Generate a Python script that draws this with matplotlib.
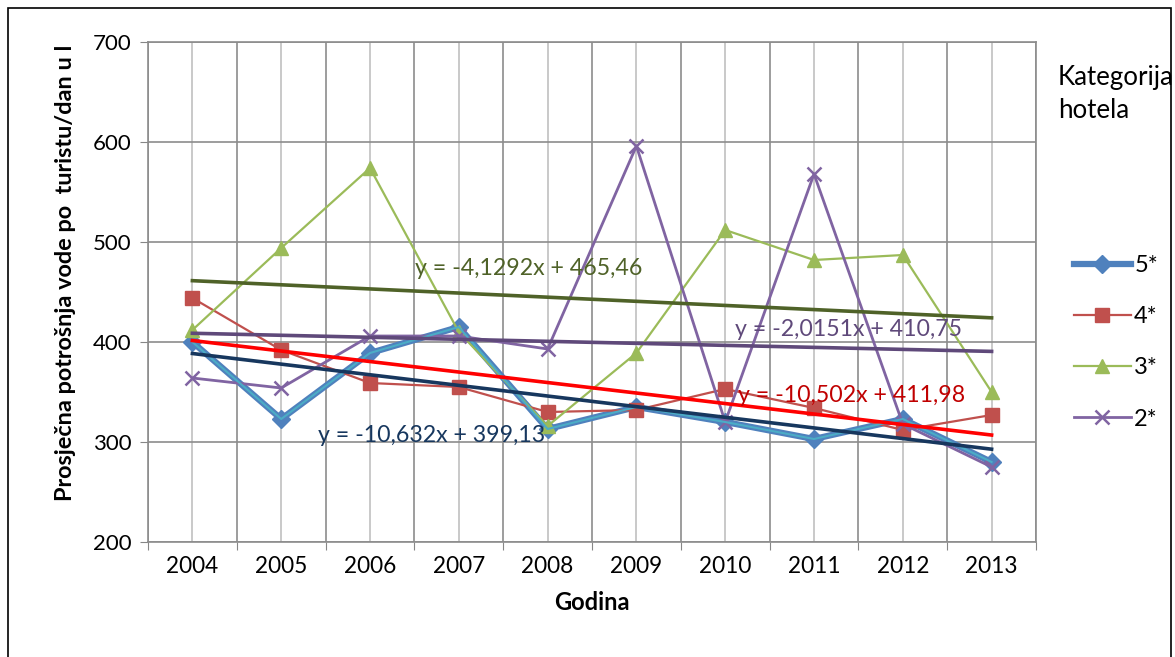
import matplotlib.pyplot as plt
import numpy as np
from matplotlib.patches import Rectangle
from matplotlib.ticker import FixedLocator, NullFormatter

plt.rcParams['font.family'] = ['Lato', 'DejaVu Sans']

years = ['2004', '2005', '2006', '2007', '2008', '2009', '2010', '2011', '2012', '2013']
hotel_5 = [400, 323, 389, 415, 313, 335, 320, 303, 323, 280]
hotel_4 = [444, 392, 359, 355, 330, 332, 353, 334, 312, 327]
hotel_3 = [412, 494, 574, 410, 316, 389, 512, 482, 487, 350]
hotel_2 = [364, 354, 406, 406, 393, 596, 320, 568, 318, 275]

# linear trend coefficients (slope, intercept) per category
trend_3 = (-4.1292, 465.46)
trend_2 = (-2.0151, 410.75)
trend_4 = (-10.502, 411.98)
trend_5 = (-10.632, 399.13)

fig = plt.figure(figsize=(11.75, 6.57), dpi=100)
fig.patches.append(Rectangle((8 / 1175, -0.1), 1163 / 1175, 1.1 - 8 / 657,
                             transform=fig.transFigure, fill=False,
                             edgecolor='black', linewidth=1.2))
ax = fig.add_axes([148 / 1175, 115 / 657, 888 / 1175, 500 / 657])

x = np.arange(1, len(years) + 1)

# series
ax.plot(x, hotel_5, color='#4F81BD', lw=4.5, marker='D', ms=9,
        mfc='#4F81BD', mec='#4F81BD', zorder=3, label='5*')
ax.plot(x, hotel_5, color='#4BACC6', lw=1.5, zorder=3.1)
ax.plot(x, hotel_4, color='#C0504D', lw=1.6, marker='s', ms=10,
        mfc='#C0504D', mec='#C0504D', zorder=3, label='4*')
ax.plot(x, hotel_3, color='#9BBB59', lw=1.6, marker='^', ms=10,
        mfc='#9BBB59', mec='#9BBB59', zorder=3, label='3*')
ax.plot(x, hotel_2, color='#8064A2', lw=2.0, marker='x', ms=10, mew=1.8,
        zorder=3, label='2*')

# trend lines and their equations
trends = [
    (trend_3, '#4F6228', '#4F6228', 3.51, 268),
    (trend_2, '#5F497A', '#5F497A', 7.11, 329),
    (trend_4, '#FF0000', '#C00000', 7.14, 395),
    (trend_5, '#17375E', '#17375E', 2.41, 435),
]
for (k, n), lc, tc, tx, ty in trends:
    ax.plot(x, k * x + n, color=lc, lw=2.6, zorder=4)
    lbl = 'y = %sx + %s' % (('%g' % k).replace('.', ','), ('%.2f' % n).replace('.', ','))
    ax.text(tx, 742 - ty, lbl, color=tc, fontsize=16.7, ha='left', va='center', zorder=5)

ax.set_xlim(0.5, 10.5)
ax.set_ylim(200, 700)
ax.set_yticks(range(200, 701, 100))
ax.xaxis.set_major_locator(FixedLocator(np.arange(0.5, 11, 1)))
ax.xaxis.set_major_formatter(NullFormatter())
ax.xaxis.set_minor_locator(FixedLocator(x))
ax.set_xticklabels(years, minor=True)
ax.tick_params(axis='x', which='minor', length=0, labelsize=16.3, pad=10)
ax.tick_params(axis='x', which='major', length=6, color='#868686')
ax.tick_params(axis='y', length=6, color='#868686', labelsize=16, pad=6)

ax.grid(True, which='major', color='#8C8C8C', lw=1.2)
ax.grid(True, which='minor', axis='x', color='#C0C0C0', lw=1.2)
ax.set_axisbelow(True)
for s in ax.spines.values():
    s.set_color('#8C8C8C')
    s.set_linewidth(1.2)

ax.set_xlabel('Godina', fontsize=17, fontweight='bold', labelpad=10)
ax.set_ylabel('Prosječna potrošnja vode po  turistu/dan u l', fontsize=16.9,
              fontweight='bold')
ax.yaxis.set_label_coords(-0.081, 0.538)

leg = fig.legend(loc='upper left', bbox_to_anchor=(1074 / 1175, 1 - 255 / 657),
                 frameon=False, fontsize=17, handlelength=2.4, labelspacing=1.28,
                 handletextpad=0.15, borderpad=0, borderaxespad=0)
fig.text(1058 / 1175, 1 - 94 / 657, 'Kategorija\nhotela', fontsize=18.6,
         ha='left', va='center', linespacing=1.45)

fig.savefig('out.png', dpi=100, facecolor='white')
